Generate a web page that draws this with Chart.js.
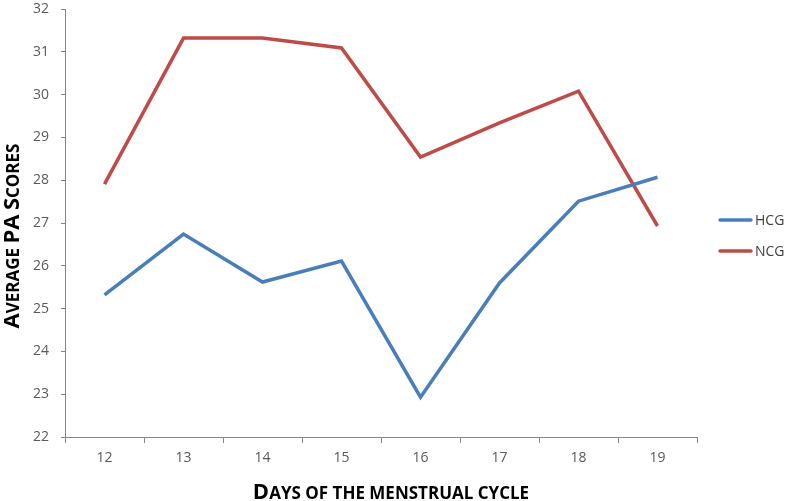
<!DOCTYPE html>
<html><head><meta charset="utf-8">
<script src="https://cdn.jsdelivr.net/npm/chart.js@4"></script>
<style>html,body{margin:0;padding:0;background:#fff}#wrap{width:786px;height:501px}</style>
</head><body><div id="wrap"><canvas id="c" width="786" height="501"></canvas></div>
<script>
const categories = ['12','13','14','15','16','17','18','19'];
const hcg = [25.32, 26.74, 25.62, 26.11, 22.93, 25.6, 27.51, 28.07];
const ncg = [27.91, 31.32, 31.32, 31.09, 28.54, 29.34, 30.08, 26.93];
const seriesNames = ['HCG', 'NCG'];
const yTitle = 'Average PA Scores';
const xTitle = 'Days of the menstrual cycle';

const axisColor = '#868686';
const fontFam = '"Open Sans", "Noto Sans", sans-serif';
const titleFam = '"Open Sans", sans-serif';

function smallCapsRuns(text) {
  const runs = [];
  for (const ch of text) {
    const big = ch !== ch.toLowerCase();
    runs.push({t: ch.toUpperCase(), big});
  }
  return runs;
}
function drawSmallCaps(ctx, text, cx, cy, bigSize, smallSize) {
  const runs = smallCapsRuns(text);
  let total = 0;
  for (const r of runs) {
    ctx.font = 'bold ' + (r.big ? bigSize : smallSize) + 'px ' + titleFam;
    r.w = ctx.measureText(r.t).width;
    total += r.w;
  }
  let x = cx - total / 2;
  ctx.textBaseline = 'alphabetic';
  ctx.textAlign = 'left';
  for (const r of runs) {
    ctx.font = 'bold ' + (r.big ? bigSize : smallSize) + 'px ' + titleFam;
    ctx.fillText(r.t, x, cy);
    x += r.w;
  }
}

const extras = {
  id: 'extras',
  afterDraw(chart) {
    const ctx = chart.ctx;
    ctx.save();
    ctx.fillStyle = '#000';
    drawSmallCaps(ctx, xTitle, 391, 499, 22, 17);
    ctx.translate(19, 236);
    ctx.rotate(-Math.PI / 2);
    drawSmallCaps(ctx, yTitle, 0, 0, 22, 17);
    ctx.restore();
    // legend
    ctx.save();
    const ys = [220, 251];
    chart.data.datasets.forEach((ds, i) => {
      ctx.strokeStyle = ds.borderColor;
      ctx.lineWidth = 3.5;
      ctx.lineCap = 'round';
      ctx.beginPath();
      ctx.moveTo(720, ys[i]);
      ctx.lineTo(751, ys[i]);
      ctx.stroke();
      ctx.fillStyle = '#404040';
      ctx.font = '14px ' + fontFam;
      ctx.textBaseline = 'middle';
      ctx.textAlign = 'left';
      ctx.fillText(ds.label, 755, ys[i] + 1);
    });
    ctx.restore();
  }
};

new Chart(document.getElementById('c'), {
  type: 'line',
  data: {
    labels: categories,
    datasets: [
      {label: seriesNames[0], data: hcg, borderColor: '#4A7EBB', backgroundColor: '#4A7EBB', borderWidth: 3.5, pointRadius: 0, tension: 0},
      {label: seriesNames[1], data: ncg, borderColor: '#BE4B48', backgroundColor: '#BE4B48', borderWidth: 3.5, pointRadius: 0, tension: 0}
    ]
  },
  plugins: [extras],
  options: {
    responsive: false,
    animation: false,
    layout: {padding: {top: 9, right: 89, left: 0, bottom: 0}},
    plugins: {
      legend: {display: false},
      tooltip: {enabled: false}
    },
    scales: {
      x: {
        offset: true,
        grid: {offset: true, drawOnChartArea: false, drawTicks: true, tickLength: 6, color: axisColor},
        border: {color: axisColor, width: 1},
        ticks: {color: '#595959', font: {size: 14, family: fontFam}, padding: 7},
        afterFit(s) { s.height = 64; s.paddingLeft = 0; s.paddingRight = 0; }
      },
      y: {
        min: 22, max: 32,
        grid: {drawOnChartArea: false, drawTicks: true, tickLength: 4, color: axisColor},
        border: {color: axisColor, width: 1},
        ticks: {stepSize: 1, color: '#595959', font: {size: 14, family: fontFam}, padding: 12},
        afterFit(s) { s.width = 65; s.paddingTop = 0; s.paddingBottom = 0; }
      }
    }
  }
});
</script></body></html>
